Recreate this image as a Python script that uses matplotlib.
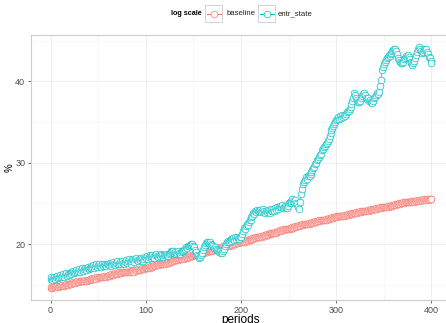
import numpy as np
import matplotlib
matplotlib.use("Agg")
import matplotlib.pyplot as plt
from matplotlib.patches import Rectangle
from matplotlib.lines import Line2D

plt.rcParams['font.family'] = ['Liberation Sans', 'DejaVu Sans']

# values, one per period (0..400)
baseline = [
    14.6, 14.7, 14.6, 14.7, 14.8, 14.7, 14.8, 14.8, 14.7, 14.9, 14.8, 14.9, 15.0, 14.9, 14.9, 15.0, 15.1, 15.0, 15.0, 15.1,
    15.1, 15.2, 15.1, 15.2, 15.3, 15.2, 15.2, 15.3, 15.4, 15.3, 15.3, 15.4, 15.5, 15.4, 15.4, 15.5, 15.6, 15.5, 15.5, 15.6,
    15.6, 15.7, 15.6, 15.7, 15.8, 15.7, 15.8, 15.8, 15.7, 15.9, 15.8, 15.9, 16.0, 15.9, 15.9, 16.0, 16.1, 16.0, 16.0, 16.1,
    16.1, 16.2, 16.1, 16.2, 16.3, 16.2, 16.2, 16.3, 16.4, 16.3, 16.3, 16.4, 16.5, 16.4, 16.4, 16.5, 16.6, 16.5, 16.5, 16.6,
    16.5, 16.6, 16.5, 16.6, 16.7, 16.6, 16.7, 16.7, 16.6, 16.8, 16.7, 16.8, 16.9, 16.8, 16.8, 16.9, 17.0, 16.9, 16.9, 17.0,
    17.0, 17.1, 17.1, 17.2, 17.1, 17.2, 17.3, 17.2, 17.3, 17.4, 17.3, 17.4, 17.4, 17.5, 17.4, 17.5, 17.6, 17.5, 17.6, 17.6,
    17.7, 17.6, 17.7, 17.8, 17.7, 17.8, 17.9, 17.8, 17.9, 18.0, 17.9, 18.0, 18.0, 18.1, 18.0, 18.1, 18.2, 18.1, 18.2, 18.3,
    18.2, 18.3, 18.4, 18.3, 18.4, 18.5, 18.4, 18.5, 18.6, 18.5, 18.6, 18.7, 18.6, 18.7, 18.8, 18.7, 18.8, 18.9, 18.8, 18.9,
    19.0, 18.9, 19.0, 19.1, 19.0, 19.1, 19.2, 19.1, 19.2, 19.3, 19.2, 19.3, 19.4, 19.3, 19.4, 19.5, 19.4, 19.5, 19.6, 19.5,
    19.6, 19.7, 19.6, 19.7, 19.8, 19.7, 19.8, 19.9, 19.8, 19.9, 20.0, 19.9, 20.0, 20.1, 20.0, 20.1, 20.2, 20.1, 20.2, 20.2,
    20.3, 20.2, 20.3, 20.4, 20.3, 20.4, 20.5, 20.4, 20.5, 20.6, 20.5, 20.6, 20.7, 20.6, 20.7, 20.8, 20.7, 20.8, 20.9, 20.8,
    20.9, 21.0, 20.9, 21.0, 21.1, 21.0, 21.1, 21.2, 21.1, 21.2, 21.3, 21.2, 21.3, 21.4, 21.3, 21.4, 21.5, 21.4, 21.5, 21.6,
    21.6, 21.7, 21.6, 21.7, 21.8, 21.7, 21.8, 21.9, 21.8, 21.9, 21.9, 22.0, 21.9, 22.0, 22.1, 22.0, 22.1, 22.2, 22.1, 22.2,
    22.2, 22.3, 22.2, 22.3, 22.4, 22.3, 22.4, 22.4, 22.5, 22.4, 22.5, 22.6, 22.5, 22.6, 22.6, 22.7, 22.6, 22.7, 22.8, 22.7,
    22.8, 22.8, 22.9, 22.8, 22.9, 23.0, 22.9, 23.0, 23.0, 23.1, 23.0, 23.1, 23.2, 23.1, 23.2, 23.2, 23.3, 23.2, 23.3, 23.3,
    23.4, 23.3, 23.4, 23.4, 23.5, 23.4, 23.5, 23.5, 23.6, 23.5, 23.6, 23.6, 23.7, 23.6, 23.7, 23.7, 23.8, 23.7, 23.8, 23.8,
    23.8, 23.9, 23.8, 23.9, 23.9, 24.0, 23.9, 24.0, 24.0, 24.1, 24.0, 24.1, 24.1, 24.2, 24.1, 24.2, 24.2, 24.3, 24.2, 24.3,
    24.3, 24.3, 24.4, 24.3, 24.4, 24.4, 24.5, 24.4, 24.5, 24.5, 24.6, 24.5, 24.6, 24.6, 24.7, 24.6, 24.7, 24.7, 24.8, 24.7,
    24.8, 24.8, 24.9, 24.8, 24.9, 24.9, 25.0, 24.9, 25.0, 25.0, 25.1, 25.0, 25.1, 25.1, 25.2, 25.1, 25.2, 25.2, 25.3, 25.2,
    25.2, 25.3, 25.2, 25.3, 25.3, 25.4, 25.3, 25.4, 25.3, 25.4, 25.4, 25.5, 25.4, 25.5, 25.4, 25.5, 25.5, 25.4, 25.5, 25.5,
    25.5,
]

entr_state = [
    15.7, 15.9, 15.6, 15.8, 16.0, 15.7, 15.9, 16.1, 15.8, 16.0, 16.2, 15.9, 16.1, 16.3, 16.0, 16.2, 16.4, 16.1, 16.3, 16.2,
    16.4, 16.6, 16.3, 16.5, 16.7, 16.4, 16.6, 16.8, 16.5, 16.7, 16.9, 16.6, 16.8, 17.0, 16.7, 16.9, 17.1, 16.8, 17.0, 17.2,
    16.9, 17.1, 17.3, 17.0, 17.2, 17.4, 17.1, 17.3, 17.5, 17.2, 17.4, 17.6, 17.3, 17.2, 17.5, 17.3, 17.6, 17.4, 17.3, 17.5,
    17.6, 17.4, 17.7, 17.5, 17.3, 17.6, 17.8, 17.5, 17.4, 17.7, 17.9, 17.6, 17.5, 17.8, 17.6, 17.9, 17.7, 17.5, 17.8, 18.0,
    17.7, 17.9, 18.1, 17.8, 17.6, 17.9, 18.2, 18.0, 17.8, 18.1, 18.3, 18.0, 17.9, 18.2, 18.0, 18.3, 18.1, 17.9, 18.2, 18.4,
    18.3, 18.5, 18.2, 18.4, 18.6, 18.3, 18.5, 18.7, 18.4, 18.3, 18.6, 18.8, 18.5, 18.4, 18.7, 18.5, 18.8, 18.6, 18.4, 18.7,
    18.6, 18.8, 18.7, 18.5, 18.8, 18.9, 19.1, 19.0, 19.2, 19.1, 18.9, 19.0, 18.8, 18.9, 19.1, 18.9, 18.8, 19.0, 19.2, 19.1,
    19.3, 19.4, 19.6, 19.5, 19.7, 19.8, 19.9, 20.0, 19.9, 20.0, 19.8, 19.6, 19.3, 19.0, 18.7, 18.5, 18.3, 18.4, 18.6, 18.9,
    19.3, 19.6, 19.9, 20.1, 20.2, 20.3, 20.1, 20.2, 20.0, 19.8, 19.9, 19.7, 19.5, 19.6, 19.4, 19.3, 19.2, 19.0, 19.1, 18.9,
    18.9, 19.1, 19.4, 19.7, 20.0, 20.2, 20.4, 20.3, 20.5, 20.6, 20.4, 20.6, 20.7, 20.5, 20.8, 20.6, 20.9, 20.7, 20.6, 20.8,
    20.9, 21.2, 21.6, 22.0, 21.8, 22.2, 22.4, 22.3, 22.7, 22.9, 23.0, 23.3, 23.5, 23.8, 23.7, 24.1, 23.9, 24.2, 24.0, 24.1,
    24.2, 23.9, 24.1, 24.3, 24.0, 23.8, 24.1, 23.9, 24.2, 24.0, 23.8, 24.1, 24.3, 24.0, 24.3, 24.1, 24.4, 24.2, 24.5, 24.3,
    24.6, 24.7, 24.5, 24.8, 24.4, 24.6, 24.7, 24.5, 24.4, 24.7, 25.0, 25.2, 25.0, 25.3, 25.5, 25.3, 25.1, 25.4, 25.0, 24.9,
    24.5, 24.3, 25.2, 26.1, 26.8, 27.4, 27.6, 27.9, 28.2, 28.0, 28.3, 28.5, 28.4, 28.6, 28.9, 29.1, 29.3, 29.5, 29.8, 30.0,
    30.3, 30.5, 30.7, 30.9, 31.1, 31.5, 31.7, 31.9, 32.1, 32.3, 32.4, 32.6, 32.9, 33.3, 33.7, 34.0, 34.2, 34.5, 34.8, 35.0,
    35.2, 35.4, 35.6, 35.3, 35.7, 35.5, 35.8, 35.6, 35.9, 35.7, 36.0, 36.2, 36.4, 36.3, 36.6, 36.8, 37.2, 37.6, 38.0, 38.5,
    38.3, 38.0, 37.7, 37.5, 37.4, 37.6, 37.9, 38.2, 38.4, 38.5, 38.3, 38.0, 37.8, 37.9, 37.6, 37.7, 37.4, 37.5, 37.3, 37.6,
    37.9, 38.1, 38.3, 38.5, 38.4, 38.7, 39.4, 40.1, 41.4, 41.8, 42.1, 42.4, 42.6, 42.9, 43.0, 43.2, 43.1, 43.4, 43.5, 43.7,
    43.8, 43.9, 44.0, 43.7, 43.3, 42.9, 42.6, 42.4, 42.3, 42.2, 42.4, 42.7, 42.9, 43.1, 43.0, 43.2, 43.0, 42.7, 42.4, 42.2,
    42.0, 42.2, 42.5, 42.8, 43.2, 43.6, 43.9, 44.2, 44.0, 43.7, 43.5, 43.6, 43.8, 44.0, 43.9, 43.6, 43.3, 43.0, 42.8, 42.5,
    42.2,
]

periods = np.arange(len(baseline))
series = [("baseline", baseline, "#F8766D"), ("entr_state", entr_state, "#00BFC4")]

W, H = 446, 323
fig = plt.figure(figsize=(W / 100, H / 100), dpi=100)
fig.patch.set_facecolor("white")

# panel runs off the right edge like in the reference
ax = fig.add_axes([31.5 / W, 1 - 300 / H, (450.5 - 31.5) / W, (300 - 35) / H])

for name, vals, col in series:
    ax.plot(periods, vals, color=col, lw=0.5, zorder=2)
    ax.plot(periods, vals, ls="none", marker="o", ms=4.8, mfc="white",
            mec=col, mew=0.5, zorder=3)

allv = np.array(baseline + entr_state)
rng = allv.max() - allv.min()
ax.set_xlim(-20, 420)
ax.set_ylim(allv.min() - 0.05 * rng, allv.max() + 0.05 * rng)

ax.set_xticks([0, 100, 200, 300, 400])
ax.set_xticks([50, 150, 250, 350], minor=True)
ax.set_yticks([20, 30, 40])
ax.set_yticks([15, 25, 35, 45], minor=True)
ax.grid(True, which="major", color="#EBEBEB", lw=0.6)
ax.grid(True, which="minor", color="#F5F5F5", lw=0.5)
ax.set_axisbelow(True)
for s in ax.spines.values():
    s.set_color("#CCCCCC")
    s.set_linewidth(0.8)
ax.tick_params(which="major", length=2.5, width=0.6, color="#555555",
               labelsize=6.5, labelcolor="#4D4D4D", pad=2)
ax.tick_params(which="minor", length=0)

ax.set_xlabel("periods", fontsize=8.5)
ax.xaxis.set_label_coords((241 - 31.5) / 419, -14.5 / 265)
ax.set_ylabel("%", fontsize=7)
ax.yaxis.set_label_coords(-17 / 419, 0.5)

# legend drawn by hand: title left, keys in small boxes
def fx(px):
    return px / W

def fy(py):
    return 1 - py / H

fig.text(fx(171), fy(13.5), "log scale", fontsize=5.2, fontweight="bold",
         ha="left", va="center")
keys = [(205, 227), (258, 278)]
for (kx, tx), (name, vals, col) in zip(keys, series):
    fig.patches.append(Rectangle((fx(kx), fy(22)), fx(17), 17 / H,
                                 transform=fig.transFigure, fill=False,
                                 ec="#CCCCCC", lw=0.6))
    fig.lines.append(Line2D([fx(kx + 1.5), fx(kx + 15.5)], [fy(13.5)] * 2,
                            transform=fig.transFigure, color=col, lw=0.8))
    fig.lines.append(Line2D([fx(kx + 8.5)], [fy(13.5)], transform=fig.transFigure,
                            marker="o", ms=4.8, mfc="white", mec=col, mew=0.5))
    fig.text(fx(tx), fy(13.5), name, fontsize=5.6, ha="left", va="center",
             color="#222222")

fig.savefig("out.png", dpi=100)
